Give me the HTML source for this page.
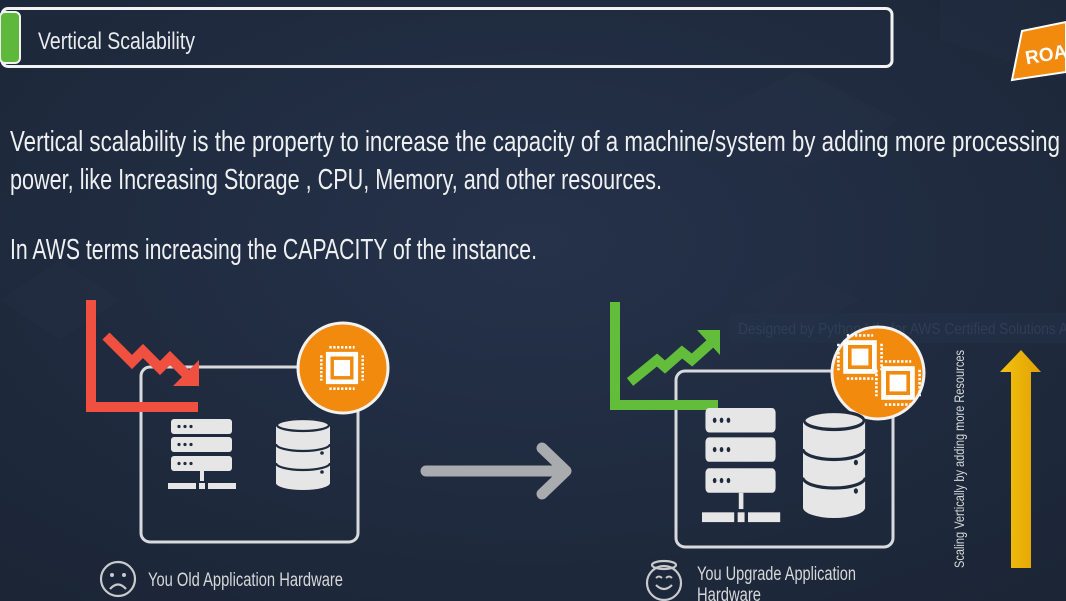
<!DOCTYPE html>
<html><head><meta charset="utf-8"><style>
html,body{margin:0;padding:0;background:#1f2b3d;}
svg{display:block}
text{font-family:"Liberation Sans Narrow","Liberation Sans",sans-serif;}
</style></head><body>
<svg width="1066" height="601" viewBox="0 0 1066 601" xmlns="http://www.w3.org/2000/svg">
<defs>
<radialGradient id="bg" cx="50%" cy="40%" r="75%">
<stop offset="0" stop-color="#25324a"/><stop offset="1" stop-color="#1b2536"/>
</radialGradient>
<g id="srv">
<rect x="3" y="0" width="61" height="15" rx="3" fill="#e6e6e6"/>
<rect x="3" y="18" width="61" height="15" rx="3" fill="#e6e6e6"/>
<rect x="3" y="37" width="61" height="15" rx="3" fill="#e6e6e6"/>
<g fill="#1f2b3d"><circle cx="11" cy="7.5" r="1.6"/><circle cx="17" cy="7.5" r="1.6"/><circle cx="23" cy="7.5" r="1.6"/>
<circle cx="11" cy="25.5" r="1.6"/><circle cx="17" cy="25.5" r="1.6"/><circle cx="23" cy="25.5" r="1.6"/>
<circle cx="11" cy="44.5" r="1.6"/><circle cx="17" cy="44.5" r="1.6"/><circle cx="23" cy="44.5" r="1.6"/></g>
<rect x="32" y="52" width="4" height="10" fill="#e6e6e6"/>
<rect x="0" y="64" width="28" height="6" fill="#e6e6e6"/>
<rect x="31" y="64" width="6" height="6" fill="#e6e6e6"/>
<rect x="40" y="64" width="28" height="6" fill="#e6e6e6"/>
</g>
<g id="db">
<path d="M0 7 A27 7 0 0 1 54 7 V65 A27 7 0 0 1 0 65 Z" fill="#e6e6e6"/>
<g fill="none" stroke="#1f2b3d" stroke-width="2.2">
<ellipse cx="27" cy="7" rx="26" ry="6"/>
<path d="M0 26 A27 7 0 0 0 54 26"/><path d="M0 45 A27 7 0 0 0 54 45"/></g>
<g fill="#1f2b3d"><circle cx="46" cy="35" r="1.8"/><circle cx="46" cy="54" r="1.8"/><circle cx="46" cy="72" r="1.8"/></g>
</g>
<g id="chip">
<rect x="-14" y="-14" width="28" height="28" fill="#fff"/>
<rect x="-10" y="-10" width="20" height="20" fill="#f28a0e"/>
<rect x="-7" y="-7" width="14" height="14" fill="#fff"/>
<g stroke="#fff" stroke-width="2.2" stroke-dasharray="2 1.4">
<line x1="-11" y1="-18" x2="11" y2="-18"/><line x1="-11" y1="18" x2="11" y2="18"/>
<line x1="-18" y1="-11" x2="-18" y2="11"/><line x1="18" y1="-11" x2="18" y2="11"/></g>
</g>
</defs>
<rect width="1066" height="601" fill="url(#bg)"/>
<g fill="#2a3850" opacity="0.18">
<polygon points="0,300 60,260 120,300 60,340"/><polygon points="700,120 800,70 900,120 800,170"/><polygon points="740,300 800,270 860,300 800,330"/><polygon points="940,0 1066,0 1066,80 940,40"/>
</g>
<!-- header -->
<rect x="2" y="8.5" width="890" height="58" rx="6" fill="none" stroke="#f2f2f2" stroke-width="3"/>
<rect x="0" y="12" width="20" height="51" rx="5" fill="#5db83c" stroke="#f2f2f2" stroke-width="2"/>
<text x="38" y="49" font-size="24" fill="#e9ecef" textLength="157" lengthAdjust="spacingAndGlyphs">Vertical Scalability</text>
<!-- ROA badge -->
<polygon points="1022,31 1066,22 1066,72 1012,80" fill="#f28a0e" stroke="#fff" stroke-width="2"/>
<text x="1025" y="62" font-size="19" font-weight="bold" fill="#fff" transform="rotate(-10 1040 55)" font-family="Liberation Sans">ROA</text>
<!-- body text -->
<g fill="#eef0f2" font-size="29">
<text x="10" y="151" textLength="1050" lengthAdjust="spacingAndGlyphs">Vertical scalability is the property to increase the capacity of a machine/system by adding more processing</text>
<text x="10" y="189" textLength="652" lengthAdjust="spacingAndGlyphs">power, like Increasing Storage , CPU, Memory, and other resources.</text>
<text x="10" y="259" textLength="527" lengthAdjust="spacingAndGlyphs">In AWS terms increasing the CAPACITY of the instance.</text>
</g>
<!-- faint watermark -->
<rect x="730" y="313" width="340" height="30" rx="3" fill="#26344b" opacity="0.4"/>
<text x="738" y="334" font-size="16" fill="#2f3e56" textLength="330" lengthAdjust="spacingAndGlyphs">Designed by Python Life for AWS Certified Solutions A</text>
<!-- LEFT -->
<rect x="141" y="367" width="217" height="175" rx="9" fill="none" stroke="#d8dadc" stroke-width="3"/>
<path d="M91 300 V407 H198" fill="none" stroke="#f0503f" stroke-width="10"/>
<polyline points="106,336 132,362 143,351 160,368 170,358 186,374" fill="none" stroke="#f0503f" stroke-width="10" stroke-linejoin="miter"/>
<polygon points="199,360 199,386 173,386" fill="#f0503f"/>
<circle cx="343" cy="368" r="45" fill="#f28a0e" stroke="#f2f2f2" stroke-width="3"/>
<use href="#chip" transform="translate(342 368) scale(1.15)"/>
<use href="#srv" transform="translate(168 419)"/>
<use href="#db" transform="translate(276 418)"/>
<g fill="none" stroke="#c8cacc" stroke-width="2.2">
<circle cx="118" cy="579" r="17"/><path d="M110 589 Q118 580 126 589"/></g>
<g fill="#c8cacc"><circle cx="112" cy="575" r="2"/><circle cx="124" cy="575" r="2"/></g>
<text x="148" y="586" font-size="19" fill="#d6d8da" textLength="195" lengthAdjust="spacingAndGlyphs">You Old Application Hardware</text>
<!-- middle arrow -->
<path d="M426 471 H566 M542 448 L566 471 L542 494" fill="none" stroke="#a9abae" stroke-width="11" stroke-linecap="round" stroke-linejoin="round"/>
<!-- RIGHT -->
<rect x="676" y="371" width="217" height="176" rx="9" fill="none" stroke="#d8dadc" stroke-width="3"/>
<path d="M615 302 V405 H718" fill="none" stroke="#62be3a" stroke-width="10"/>
<polyline points="630,382 657,360 665,367 682,352 692,360 712,342" fill="none" stroke="#62be3a" stroke-width="10"/>
<polygon points="720,330 720,355 697,330" fill="#62be3a"/>
<circle cx="878" cy="373" r="46" fill="#f28a0e" stroke="#f2f2f2" stroke-width="3"/>
<use href="#chip" transform="translate(860 357) scale(1.2)"/>
<use href="#chip" transform="translate(898 383) scale(1.2)"/>
<use href="#srv" transform="translate(702 408) scale(1.15 1.63)"/>
<use href="#db" transform="translate(803 410) scale(1.15 1.5)"/>
<g fill="none" stroke="#c8cacc" stroke-width="2.2">
<circle cx="664" cy="583" r="17"/><path d="M656 585 Q664 593 672 585"/><ellipse cx="664" cy="565" rx="12" ry="4"/></g>
<g fill="none" stroke="#c8cacc" stroke-width="2"><path d="M656 578 q3 -3 6 0"/><path d="M666 578 q3 -3 6 0"/></g>
<text x="697" y="580" font-size="19" fill="#d6d8da" textLength="159" lengthAdjust="spacingAndGlyphs">You Upgrade Application</text>
<text x="697" y="601" font-size="19" fill="#d6d8da" textLength="64" lengthAdjust="spacingAndGlyphs">Hardware</text>
<text transform="translate(964 568) rotate(-90)" font-size="14" fill="#d6d8da" textLength="218" lengthAdjust="spacingAndGlyphs">Scaling Vertically by adding more Resources</text>
<defs><linearGradient id="yg" x1="0" x2="1"><stop offset="0" stop-color="#f5c211"/><stop offset="1" stop-color="#e0a100"/></linearGradient></defs>
<polygon points="1021,350 1041,372 1031,372 1031,568 1011,568 1011,372 1000,372" fill="url(#yg)"/>
</svg>
</body></html>
